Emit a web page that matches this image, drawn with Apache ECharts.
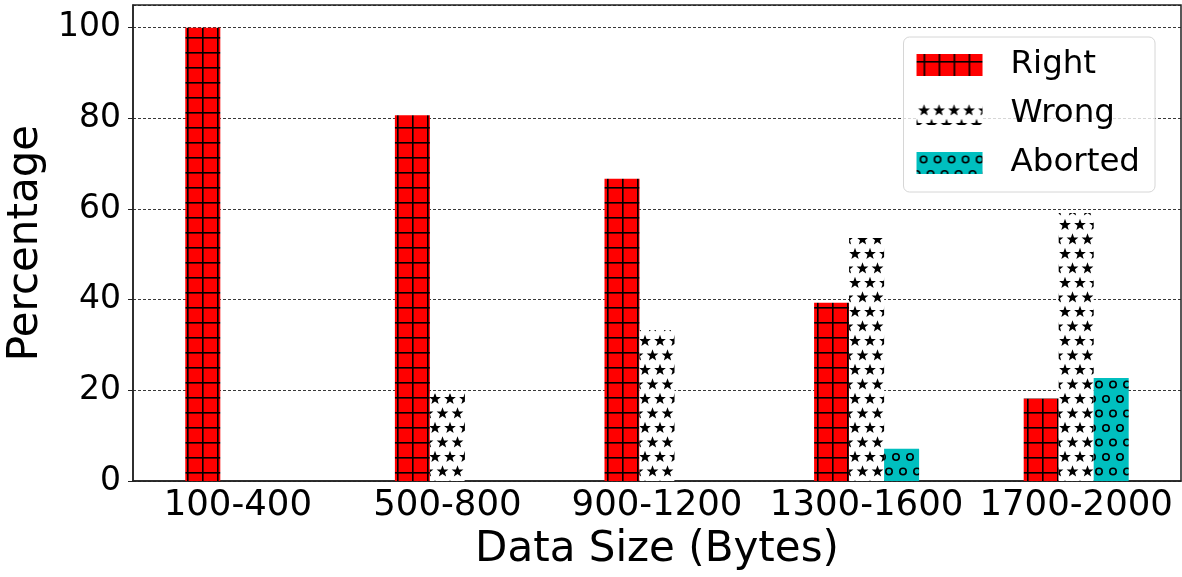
<!DOCTYPE html>
<html>
<head>
<meta charset="utf-8">
<script src="https://cdn.jsdelivr.net/npm/echarts@6/dist/echarts.min.js"></script>
<style>
  html, body { margin: 0; padding: 0; background: #fff; }
  #chart { width: 1182px; height: 577px; }
</style>
</head>
<body>
<div id="chart"></div>
<script>
// data
const categories = ["100-400", "500-800", "900-1200", "1300-1600", "1700-2000"];
const rightVals = [100, 80.7, 66.7, 39.3, 18.2];
const wrongVals = [0, 19.3, 33.3, 53.6, 59.1];
const abortedVals = [0, 0, 0, 7.1, 22.7];
const yTicks = [0, 20, 40, 60, 80, 100];

const FONT = "DejaVu Sans";

// hatch patterns (matplotlib style '+', '*', 'o')
function makeGrid() {
  const c = document.createElement("canvas");
  c.width = 15; c.height = 15;
  const g = c.getContext("2d");
  g.fillStyle = "#ff0000";
  g.fillRect(0, 0, 15, 15);
  g.fillStyle = "#000";
  g.fillRect(7, 0, 1.6, 15);
  g.fillRect(0, 7, 15, 1.6);
  return c;
}

function star(g, cx, cy, r) {
  g.beginPath();
  for (let i = 0; i < 10; i++) {
    const rr = i % 2 === 0 ? r : r * 0.42;
    const a = -Math.PI / 2 + i * Math.PI / 5;
    const x = cx + rr * Math.cos(a), y = cy + rr * Math.sin(a);
    i === 0 ? g.moveTo(x, y) : g.lineTo(x, y);
  }
  g.closePath();
  g.fill();
}

function makeStars() {
  const c = document.createElement("canvas");
  c.width = 15; c.height = 29;
  const g = c.getContext("2d");
  g.fillStyle = "#fff";
  g.fillRect(0, 0, 15, 29);
  g.fillStyle = "#000";
  star(g, 7.5, 7.5, 6.2);
  star(g, 0, 22, 6.2);
  star(g, 15, 22, 6.2);
  return c;
}

function makeCircles() {
  const c = document.createElement("canvas");
  c.width = 14; c.height = 29;
  const g = c.getContext("2d");
  g.fillStyle = "#00bfbf";
  g.fillRect(0, 0, 14, 29);
  g.strokeStyle = "#000";
  g.lineWidth = 1.6;
  [[7, 7.5], [0, 22], [14, 22]].forEach(p => {
    g.beginPath();
    g.arc(p[0], p[1], 3.2, 0, Math.PI * 2);
    g.stroke();
  });
  return c;
}

const chart = echarts.init(document.getElementById("chart"), null, { renderer: "canvas" });

chart.setOption({
  backgroundColor: "#fff",
  animation: false,
  textStyle: { fontFamily: FONT },
  grid: {
    left: 133, right: 1, top: 5, bottom: 96,
    containLabel: false,
    outerBoundsMode: "none",
    show: true, borderColor: "#222", borderWidth: 1.5
  },
  legend: {
    orient: "vertical",
    right: 27, top: 37,
    icon: "rect",
    itemWidth: 66, itemHeight: 22,
    itemGap: 15,
    padding: [11, 15, 12, 13],
    borderColor: "#d6d6d6", borderWidth: 1, borderRadius: 6,
    backgroundColor: "rgba(255,255,255,0.8)",
    textStyle: { fontSize: 32.5, fontFamily: FONT, color: "#000", lineHeight: 34, padding: [0, 0, 0, 23] },
    data: ["Right", "Wrong", "Aborted"]
  },
  xAxis: {
    type: "category",
    data: categories,
    name: "Data Size (Bytes)",
    nameLocation: "middle",
    nameGap: 47,
    nameTextStyle: { fontSize: 42, color: "#000", fontFamily: FONT },
    axisLine: { lineStyle: { color: "#222", width: 1.5 } },
    axisTick: { alignWithLabel: true, length: 5, lineStyle: { color: "#222" } },
    axisLabel: { fontSize: 35.5, color: "#000", margin: 7, interval: 0, fontFamily: FONT }
  },
  yAxis: {
    type: "value",
    min: 0, max: 105, interval: 20,
    name: "Percentage",
    nameLocation: "middle",
    nameGap: 84,
    nameTextStyle: { fontSize: 42, color: "#000", fontFamily: FONT },
    axisLine: { show: true, lineStyle: { color: "#222", width: 1.5 } },
    axisTick: { show: true, length: 5, lineStyle: { color: "#222" } },
    axisLabel: {
      fontSize: 33, color: "#000", margin: 12, fontFamily: FONT,
      showMaxLabel: false,
      formatter: v => (yTicks.indexOf(v) >= 0 ? String(v) : "")
    },
    splitLine: { show: true, lineStyle: { color: "#222", width: 0.9, type: [3, 2] } }
  },
  series: [
    {
      name: "Right", type: "bar", data: rightVals,
      barWidth: 35, barGap: "0%",
      itemStyle: { color: { image: makeGrid(), repeat: "repeat" } }
    },
    {
      name: "Wrong", type: "bar", data: wrongVals,
      barWidth: 35, barGap: "0%",
      itemStyle: { color: { image: makeStars(), repeat: "repeat" } }
    },
    {
      name: "Aborted", type: "bar", data: abortedVals,
      barWidth: 35, barGap: "0%",
      itemStyle: { color: { image: makeCircles(), repeat: "repeat" } }
    }
  ]
});
</script>
</body>
</html>
